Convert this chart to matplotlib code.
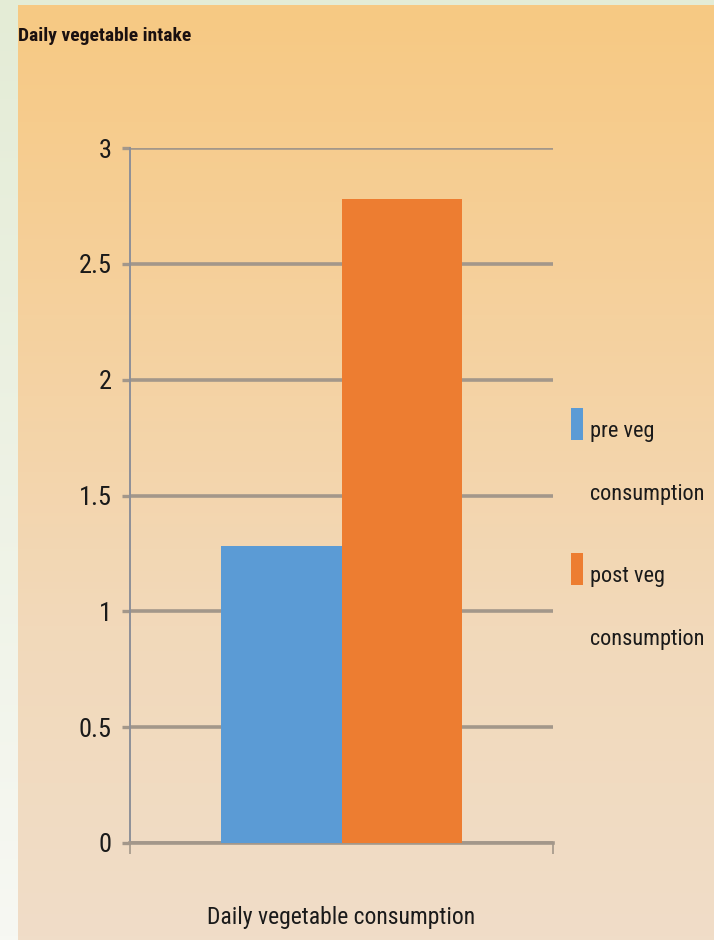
import numpy as np
import matplotlib
matplotlib.use("Agg")
import matplotlib.pyplot as plt
from matplotlib.patches import Rectangle
from matplotlib.container import BarContainer
from matplotlib.colors import LinearSegmentedColormap
from matplotlib.legend_handler import HandlerPatch

# ---- data ----
categories = ["Daily vegetable consumption"]
series_names = ["pre veg\nconsumption", "post veg\nconsumption"]
pre_values = [1.28]
post_values = [2.78]
series_colors = ["#5B9BD5", "#ED7D31"]
y_ticks = [0, 0.5, 1, 1.5, 2, 2.5, 3]
y_tick_labels = ["0", "0.5", "1", "1.5", "2", "2.5", "3"]
title_text = "Daily vegetable intake"

FONT = ["Liberation Sans Narrow", "Roboto Condensed", "DejaVu Sans"]
plt.rcParams['font.family'] = FONT

W, H = 714, 940
fig = plt.figure(figsize=(W / 100, H / 100), dpi=100)
fig.patch.set_facecolor("#F0F3EA")

# background panels
bg = fig.add_axes([0, 0, 1, 1], zorder=-10)
bg.set_xlim(0, W)
bg.set_ylim(H, 0)
bg.axis("off")
edge = LinearSegmentedColormap.from_list("edge", ["#E4ECD6", "#F7F8F3"])
bg.imshow(np.linspace(0, 1, 256).reshape(-1, 1), cmap=edge, aspect="auto",
          extent=[0, W, H, 0], zorder=0)
cmap = LinearSegmentedColormap.from_list(
    "bgc", ["#F7C983", "#F5D19E", "#F2D9BA", "#F0DDC8"])
grad = np.linspace(0, 1, 256).reshape(-1, 1)
bg.imshow(grad, cmap=cmap, aspect="auto", extent=[18, W, H, 5], zorder=1)

# main axes
ax = fig.add_axes([130 / W, 1 - 843 / H, (553 - 130) / W, (843 - 148) / H])
ax.patch.set_alpha(0)

x = np.arange(len(categories))
bw = 0.286
ax.bar(x - bw / 2, pre_values, width=bw, color=series_colors[0],
       label=series_names[0], zorder=3)
ax.bar(x + bw / 2, post_values, width=bw, color=series_colors[1],
       label=series_names[1], zorder=3)

ax.set_xlim(-0.5, 0.5)
ax.set_ylim(0, 3)
ax.set_yticks(y_ticks)
ax.set_yticklabels(y_tick_labels)
ax.yaxis.grid(True, color="#A3978A", linewidth=2.6, zorder=1)
ax.set_axisbelow(True)

for s in ["top", "right"]:
    ax.spines[s].set_visible(False)
ax.spines["left"].set_color("#8E9098")
ax.spines["left"].set_linewidth(1.4)
ax.spines["bottom"].set_color("#A3978A")
ax.spines["bottom"].set_linewidth(2.6)

ax.tick_params(axis="y", length=6, width=2.4, color="#A3978A",
               labelsize=19, pad=7, labelcolor="#1A1A1A")
ax.set_xticks([-0.5, 0.5])
ax.set_xticklabels(["", ""])
ax.tick_params(axis="x", length=8, width=1.2, color="#A3978A")
ax.set_xlabel(categories[0], fontsize=17, color="#1A1A1A", labelpad=34)

# title
fig.text(18 / W, 1 - 36 / H, title_text, fontsize=14, fontweight="bold",
         color="#1A1010", ha="left", va="center")


# legend: handle aligned with the first line of each two-line label
def top_patch(legend, orig_handle, xdescent, ydescent, width, height, fontsize):
    return Rectangle((-xdescent, -ydescent + 29), width, height)


def upd(legend_handle, orig_handle):
    src = orig_handle.patches[0] if isinstance(orig_handle, BarContainer) else orig_handle
    legend_handle.set_facecolor(src.get_facecolor())
    legend_handle.set_edgecolor("none")


top_handler = HandlerPatch(patch_func=top_patch, update_func=upd)
leg = fig.legend(loc="upper left", bbox_to_anchor=(571 / W, 1 - 421 / H),
                 frameon=False, fontsize=16, handlelength=0.55,
                 handleheight=1.83, handletextpad=0.3, labelspacing=2.72,
                 borderpad=0, borderaxespad=0,
                 handler_map={BarContainer: top_handler})
for t in leg.get_texts():
    t.set_linespacing(3.65)
    t.set_color("#1A1A1A")

fig.savefig("out.png", dpi=100)
